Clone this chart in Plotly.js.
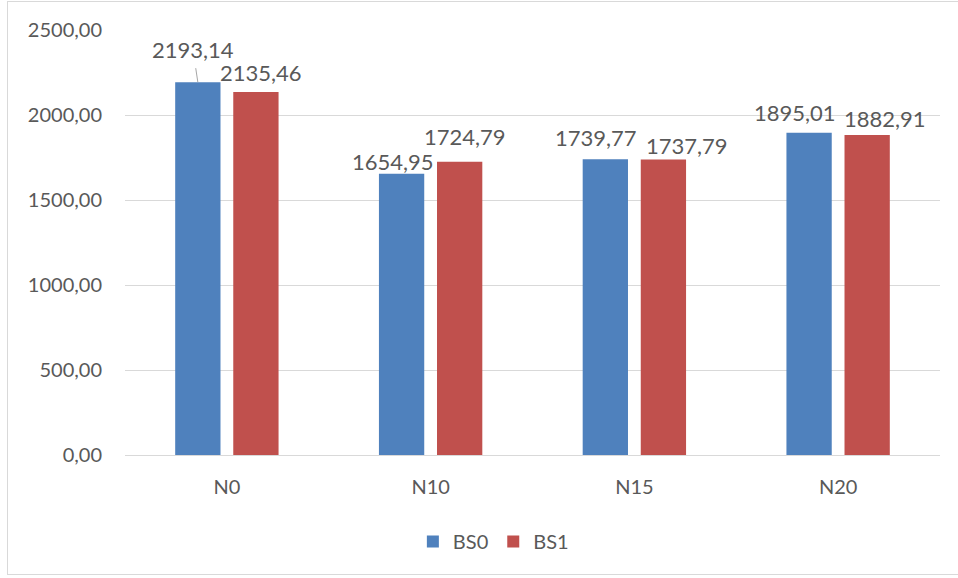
<!DOCTYPE html>
<html>
<head>
<meta charset="utf-8">
<script src="https://cdn.plot.ly/plotly-3.0.1.min.js"></script>
<style>
  html, body { margin: 0; padding: 0; background: #ffffff; }
  #wrap { position: relative; width: 958px; height: 578px; overflow: hidden; }
  #frame { position: absolute; left: 7px; top: 1px; width: 960px; height: 574px;
           border: 1px solid #d9d9d9; box-sizing: border-box; pointer-events: none; }
  #chart { position: absolute; left: 0; top: 0; width: 958px; height: 578px; }
</style>
</head>
<body>
<div id="wrap">
  <div id="chart"></div>
  <div id="frame"></div>
</div>
<script>
// Categories and series values
const categories = ['N0', 'N10', 'N15', 'N20'];
const seriesNames = ['BS0', 'BS1'];
const bs0 = [2193.14, 1654.95, 1739.77, 1895.01];
const bs1 = [2135.46, 1724.79, 1737.79, 1882.91];
const yTicks = [0, 500, 1000, 1500, 2000, 2500];

const colors = ['#4F81BD', '#C0504D'];
const textColor = '#595959';
const gridColor = '#d9d9d9';
const fontFamily = 'Lato, "Open Sans", sans-serif';
const barGap = 0.43;
const barGroupGap = 0.22;

// Pixel nudges for each value label, relative to the top centre of its bar
const labelNudge = [
  [[-5, 33], [-9, 12], [-9, 22], [-14, 20]],
  [[5, 19], [5, 25], [24, 14], [18, 16]]
];

const fmt = v => v.toFixed(2).replace('.', ',');

const values = [bs0, bs1];
const traces = values.map((vals, i) => ({
  type: 'bar',
  name: seriesNames[i],
  x: categories,
  y: vals,
  marker: { color: colors[i], line: { width: 0 } },
  hoverinfo: 'x+y'
}));

// Value labels placed over each bar (category index +/- half a bar slot)
const slot = (1 - barGap) / 4;
const annotations = [];
values.forEach((vals, i) => {
  vals.forEach((v, j) => {
    const xPos = j + (i === 0 ? -slot : slot);
    const [dx, dy] = labelNudge[i][j];
    const withLeader = (i === 0 && j === 0);
    const a = {
      xref: 'x', yref: 'y', x: xPos, y: v,
      text: fmt(v),
      font: { family: fontFamily, size: 22, color: textColor },
      xanchor: 'center', yanchor: 'middle'
    };
    if (withLeader) {
      Object.assign(a, {
        showarrow: true, arrowhead: 0, arrowwidth: 1, arrowcolor: '#a6a6a6',
        standoff: 0, ax: dx, ay: -dy, borderpad: 5
      });
    } else {
      Object.assign(a, { showarrow: false, xshift: dx, yshift: dy });
    }
    annotations.push(a);
  });
});

const layout = {
  width: 958,
  height: 578,
  margin: { l: 125, r: 18, t: 30, b: 123 },
  paper_bgcolor: 'rgba(0,0,0,0)',
  plot_bgcolor: '#ffffff',
  barmode: 'group',
  bargap: barGap,
  bargroupgap: barGroupGap,
  separators: ',.',
  font: { family: fontFamily, color: textColor, size: 20 },
  xaxis: {
    type: 'category',
    showline: true, linecolor: gridColor, linewidth: 1,
    showgrid: false, ticks: '',
    ticklabelstandoff: 14,
    tickfont: { family: fontFamily, size: 20, color: textColor }
  },
  yaxis: {
    range: [0, 2500],
    tickvals: yTicks,
    tickformat: '.2f',
    showgrid: true, gridcolor: gridColor, gridwidth: 1,
    zeroline: false, showline: false, ticks: '',
    ticklabelstandoff: 22,
    tickfont: { family: fontFamily, size: 20, color: textColor }
  },
  legend: {
    orientation: 'h',
    xref: 'container', yref: 'container',
    x: 0.515, y: 0.063, xanchor: 'center', yanchor: 'middle',
    font: { family: fontFamily, size: 20, color: textColor },
    itemwidth: 30
  },
  showlegend: true,
  annotations: annotations
};

Plotly.newPlot('chart', traces, layout, { displayModeBar: false, staticPlot: true });
</script>
</body>
</html>
